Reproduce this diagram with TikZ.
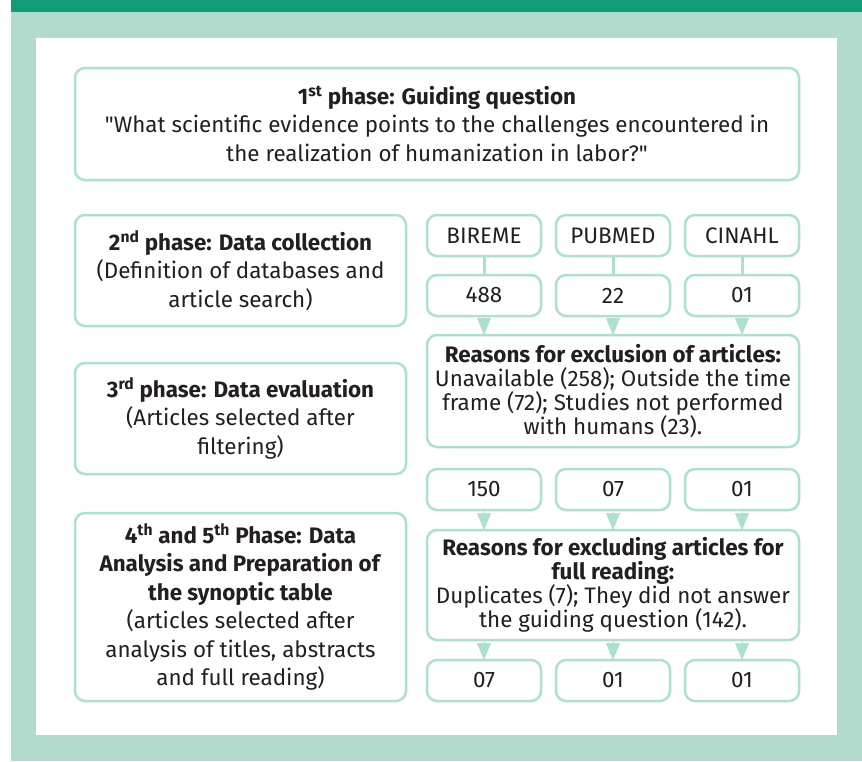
\documentclass[tikz,border=0pt]{standalone}
\usepackage{fontspec}
\setmainfont{Fira Sans}
\usetikzlibrary{positioning,arrows.meta}
\definecolor{darkgreen}{HTML}{139A77}
\definecolor{lightteal}{HTML}{B2DBCD}
\definecolor{bordergreen}{HTML}{AEDFCF}
\definecolor{textgray}{HTML}{231F20}

\begin{document}
\begin{tikzpicture}[x=1pt, y=-1pt,
  phase/.style={draw=bordergreen, line width=2.5pt, rounded corners=10pt, fill=white, align=center, inner sep=0pt, outer sep=0pt, text=textgray, font=\fontsize{22.4}{28.5}\selectfont},
  reasons/.style={phase, minimum width=372pt, font=\fontsize{22.4}{24}\selectfont},
  base/.style={phase, minimum width=114pt, minimum height=41pt},
  link/.style={draw=bordergreen, line width=3pt},
  tri/.style={draw=bordergreen, line width=0.5pt, -{Triangle[width=14pt, length=17pt]}}]

% BACKGROUND

\fill[white] (0,0) rectangle (862,761);
\fill[lightteal] (11,12) rectangle (862,761);
\fill[darkgreen] (11,0) rectangle (862,12);
\fill[white] (36,38) rectangle (837,735);

% PHASES

\node [phase, minimum width=724pt, minimum height=112pt] (guiding) at (437,124)
{\textbf{1\textsuperscript{st} phase: Guiding question}\\
\textquotedbl What scientific evidence points to the challenges encountered in\\
the realization of humanization in labor?\textquotedbl};

\node [phase, minimum width=331pt, minimum height=111pt, below=35pt of guiding.south west, anchor=north west] (collection)
{\textbf{2\textsuperscript{nd} phase: Data collection}\\
(Definition of databases and\\
article search)};

\node [phase, minimum width=331pt, minimum height=111pt, below=37pt of collection.south west, anchor=north west] (evaluation)
{\textbf{3\textsuperscript{rd} phase: Data evaluation}\\
(Articles selected after\\
filtering)};

\node [phase, minimum width=331pt, minimum height=188pt, below=39pt of evaluation.south west, anchor=north west] (analysis)
{\textbf{4\textsuperscript{th} and 5\textsuperscript{th} Phase: Data}\\
\textbf{Analysis and Preparation of}\\
\textbf{the synoptic table}\\
(articles selected after\\
analysis of titles, abstracts\\
and full reading)};

% DATABASES

\node [base, right=21pt of collection.north east, anchor=north west] (bireme) {BIREME};
\node [base, right=15pt of bireme] (pubmed) {PUBMED};
\node [base, right=15pt of pubmed] (cinahl) {CINAHL};

\node [base, below=19pt of bireme] (bireme-found) {488};
\node [base, below=19pt of pubmed] (pubmed-found) {22};
\node [base, below=19pt of cinahl] (cinahl-found) {01};

\node [reasons, minimum height=112pt, below=19pt of bireme-found.south west, anchor=north west] (exclusion)
{\textbf{Reasons for exclusion of articles:}\\
Unavailable (258); Outside the time\\
frame (72); Studies not performed\\
with humans (23).};

\node [base, below=22pt of exclusion.south west, anchor=north west] (bireme-filtered) {150};
\node [base, right=15pt of bireme-filtered] (pubmed-filtered) {07};
\node [base, right=15pt of pubmed-filtered] (cinahl-filtered) {01};

\node [reasons, minimum height=110pt, below=20pt of bireme-filtered.south west, anchor=north west] (excluding)
{\textbf{Reasons for excluding articles for}\\
\textbf{full reading:}\\
Duplicates (7); They did not answer\\
the guiding question (142).};

\node [base, below=20pt of excluding.south west, anchor=north west] (bireme-selected) {07};
\node [base, right=15pt of bireme-selected] (pubmed-selected) {01};
\node [base, right=15pt of pubmed-selected] (cinahl-selected) {01};

% CONNECTORS

\foreach \db in {bireme,pubmed,cinahl}{
  \draw [link] (\db) -- (\db-found);
  \draw [tri] (\db-found.south) -- (\db-found.south |- exclusion.north);
  \draw [tri] (\db-filtered.south) -- (\db-filtered.south |- excluding.north);
  \draw [tri] (\db-selected.north |- excluding.south) -- (\db-selected.north);
}

\end{tikzpicture}
\end{document}
